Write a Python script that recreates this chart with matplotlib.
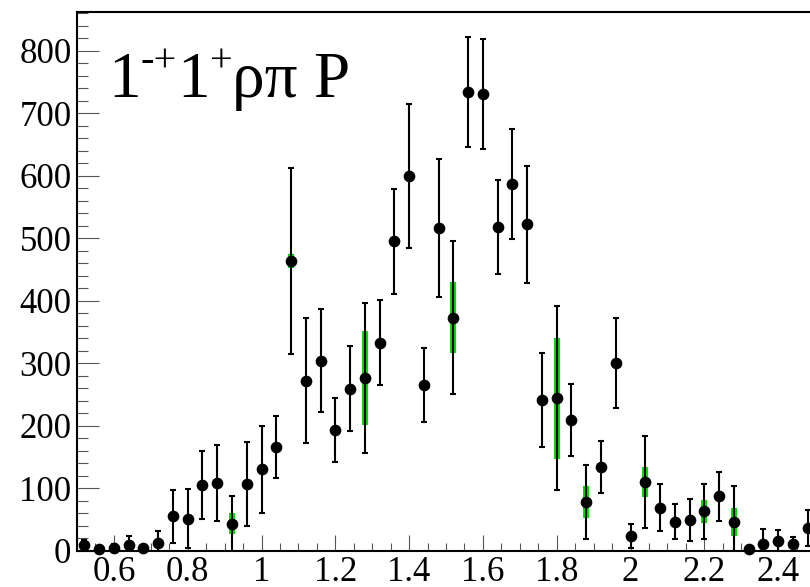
import numpy as np
import matplotlib
matplotlib.use("Agg")
import matplotlib.pyplot as plt
from matplotlib.ticker import MultipleLocator, FormatStrFormatter, FuncFormatter
from matplotlib.transforms import IdentityTransform

plt.rcParams['font.family'] = ['Liberation Serif', 'DejaVu Serif']

# bin centres (GeV) and fitted intensities for the 1-+ 1+ rho pi P wave
mass = [0.52, 0.56, 0.60, 0.64, 0.68, 0.72, 0.76, 0.80, 0.84, 0.88,
        0.92, 0.96, 1.00, 1.04, 1.08, 1.12, 1.16, 1.20, 1.24, 1.28,
        1.32, 1.36, 1.40, 1.44, 1.48, 1.52, 1.56, 1.60, 1.64, 1.68,
        1.72, 1.76, 1.80, 1.84, 1.88, 1.92, 1.96, 2.00, 2.04, 2.08,
        2.12, 2.16, 2.20, 2.24, 2.28, 2.32, 2.36, 2.40, 2.44, 2.48]
intensity = [9, 2, 4, 9, 4, 12, 55, 51, 105, 108,
             43, 107, 130, 166, 464, 272, 304, 193, 259, 276,
             333, 495, 599, 265, 516, 373, 734, 730, 518, 586,
             522, 241, 244, 209, 78, 134, 300, 23, 110, 69,
             46, 49, 63, 87, 46, 3, 11, 16, 10, 36]
stat_err = [8, 3, 6, 14, 4, 20, 42, 47, 55, 61,
            45, 67, 70, 50, 149, 100, 82, 51, 68, 120,
            68, 84, 115, 59, 110, 122, 88, 88, 75, 88,
            94, 75, 147, 57, 59, 42, 72, 19, 73, 37,
            28, 33, 44, 39, 57, 2, 24, 17, 12, 29]
syst_err = [0, 0, 0, 0, 0, 0, 0, 0, 0, 0,
            17, 0, 0, 0, 11, 0, 0, 0, 0, 75,
            0, 0, 0, 0, 0, 57, 0, 0, 0, 0,
            0, 0, 97, 0, 25, 0, 0, 0, 24, 0,
            0, 0, 18, 0, 22, 0, 0, 0, 0, 0]

W, H = 810, 587
fig = plt.figure(figsize=(W / 100, H / 100), dpi=100)
ax = fig.add_axes([77 / W, (H - 550.7) / H, 738 / W, 538.7 / H])

x = np.array(mass)
y = np.array(intensity)
es = np.array(stat_err)
ey = np.array(syst_err)

# systematic band (green), drawn underneath
has_sys = ey > 0
ax.bar(x[has_sys], 2 * ey[has_sys], bottom=y[has_sys] - ey[has_sys],
       width=0.016, color='#00dd00', edgecolor='none', zorder=2)

# statistical errors
ax.errorbar(x, y, yerr=es, fmt='none', ecolor='black', elinewidth=1.5,
            capsize=2.4, capthick=1.5, zorder=3)
ax.plot(x, y, 'o', color='black', markersize=7.4, zorder=5, clip_on=False)

ax.set_xlim(0.5, 2.5)
ax.set_ylim(0, 862)

ax.xaxis.set_major_locator(MultipleLocator(0.2))
ax.xaxis.set_minor_locator(MultipleLocator(0.05))
ax.yaxis.set_major_locator(MultipleLocator(100))
ax.yaxis.set_minor_locator(MultipleLocator(20))
ax.xaxis.set_major_formatter(FuncFormatter(lambda v, p: '%g' % round(v, 2)))
ax.yaxis.set_major_formatter(FormatStrFormatter('%d'))

ax.tick_params(axis='both', which='both', direction='in', color='#555555',
               labelsize=25, width=0.8, top=False, right=False)
ax.tick_params(axis='y', which='major', length=16, pad=4)
ax.tick_params(axis='y', which='minor', length=8)
ax.tick_params(axis='x', which='major', length=11.5, pad=3.5)
ax.tick_params(axis='x', which='minor', length=6)

for s in ax.spines.values():
    s.set_linewidth(1.5)

# wave label, ROOT style: pieces laid out one after another in pixels
renderer = fig.canvas.get_renderer()
pieces = [('1', 47, 0), ('-+', 29, 26), ('1', 47, 0), ('+', 29, 26), ('ρπ P', 47, 0)]
xpos, base = 108, H - 97
for s, fs, dy in pieces:
    t = fig.text(xpos, base + dy, s, fontsize=fs, va='baseline', ha='left',
                 transform=IdentityTransform())
    xpos = t.get_window_extent(renderer).x1

fig.savefig('out.png', dpi=100)
